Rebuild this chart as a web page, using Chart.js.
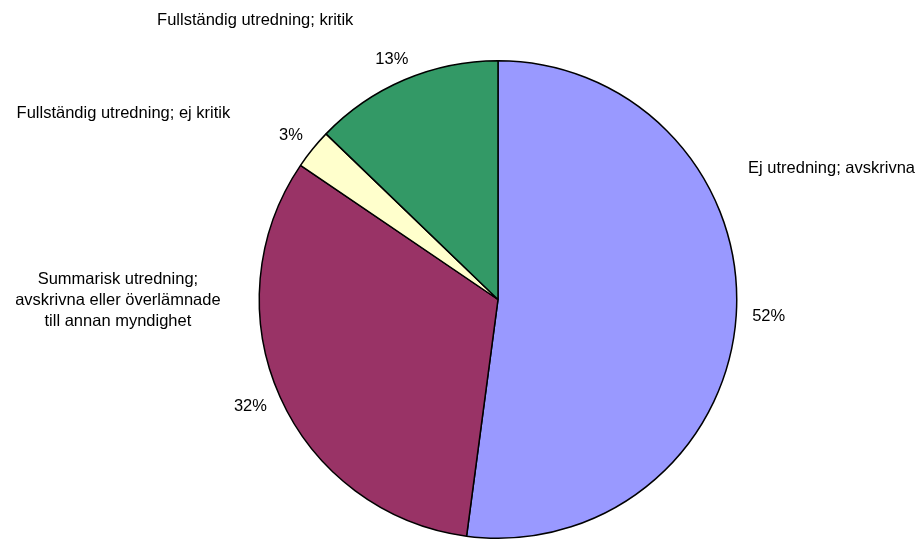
<!DOCTYPE html>
<html>
<head>
<meta charset="utf-8">
<script src="https://cdn.jsdelivr.net/npm/chart.js@4/dist/chart.umd.min.js"></script>
<style>
  html, body { margin: 0; padding: 0; background: #fff; }
  #wrap { width: 922px; height: 540px; position: relative; }
</style>
</head>
<body>
<div id="wrap"><canvas id="chart"></canvas></div>
<script>
// data (share of cases, in percent)
var categories = [
  'Ej utredning; avskrivna',
  ['Summarisk utredning;', 'avskrivna eller överlämnade', 'till annan myndighet'],
  'Fullständig utredning; ej kritik',
  'Fullständig utredning; kritik'
];
var shares = [52.1, 32.4, 2.7, 12.8];
var colors = ['#9999FF', '#993366', '#FFFFCC', '#339966'];

// where each category name sits, relative to pie centre, in pie radii
var namePos = [[1.397, -0.548], [-1.592, 0.004], [-1.569, -0.778], [-1.017, -1.167]];

var FONT = '16.5px "Liberation Sans", Arial, sans-serif';

var pieLabels = {
  id: 'pieLabels',
  afterDatasetsDraw: function(chart) {
    var ctx = chart.ctx;
    var meta = chart.getDatasetMeta(0);
    var total = shares.reduce(function(a, b) { return a + b; }, 0);
    ctx.save();
    ctx.font = FONT;
    ctx.fillStyle = '#000';
    ctx.textAlign = 'center';
    ctx.textBaseline = 'middle';
    meta.data.forEach(function(arc, i) {
      var p = arc.getProps(['x', 'y', 'startAngle', 'endAngle', 'outerRadius'], true);
      var mid = (p.startAngle + p.endAngle) / 2;
      var dx = Math.cos(mid), dy = Math.sin(mid);
      var txt = Math.round(shares[i] / total * 100) + '%';
      var w = ctx.measureText(txt).width, h = 12;
      var r = p.outerRadius + 16;
      ctx.fillText(txt, p.x + dx * r + dx * w / 2, p.y + dy * r + dy * h / 2);

      var lines = [].concat(categories[i]);
      var cx = p.x + namePos[i][0] * p.outerRadius;
      var cy = p.y + namePos[i][1] * p.outerRadius;
      var lh = 21;
      lines.forEach(function(line, k) {
        ctx.fillText(line, cx, cy + (k - (lines.length - 1) / 2) * lh);
      });
    });
    ctx.restore();
  }
};

new Chart(document.getElementById('chart'), {
  type: 'pie',
  data: {
    labels: categories,
    datasets: [{
      data: shares,
      backgroundColor: colors,
      borderColor: '#000',
      borderWidth: 1.5,
      hoverOffset: 0
    }]
  },
  options: {
    responsive: true,
    maintainAspectRatio: false,
    animation: false,
    events: [],
    layout: { padding: { left: 258, right: 184, top: 60, bottom: 1 } },
    plugins: {
      legend: { display: false },
      tooltip: { enabled: false }
    }
  },
  plugins: [pieLabels]
});
</script>
</body>
</html>
